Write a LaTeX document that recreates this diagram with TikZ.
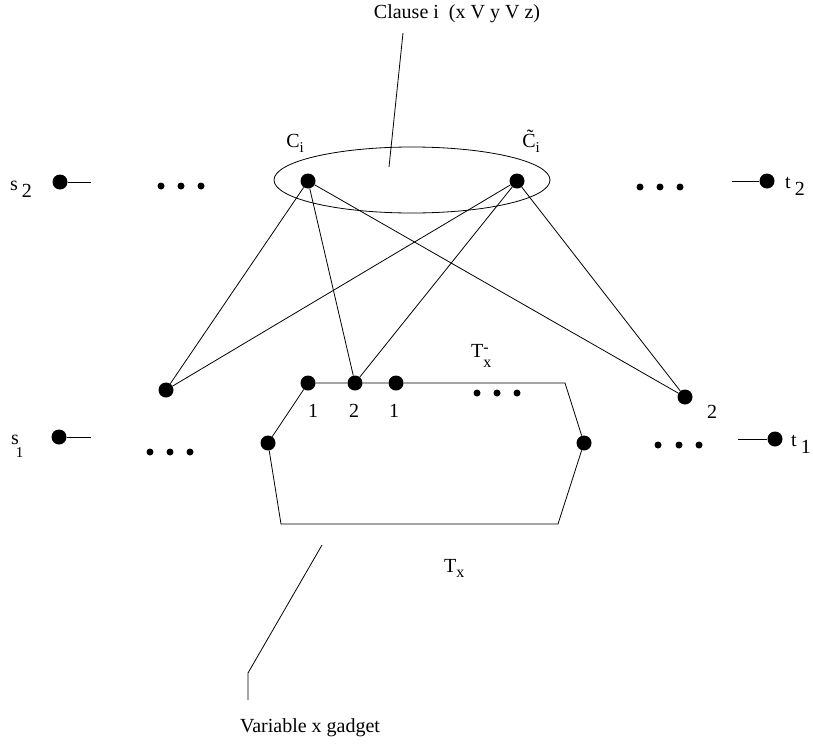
\documentclass[tikz,border=0pt]{standalone}
\usepackage{fontspec}
\setmainfont{Liberation Serif}
\begin{document}
\begin{tikzpicture}[x=1pt,y=-1pt,
  big/.style={circle,fill=black,inner sep=0pt,minimum size=15pt},
  small/.style={circle,fill=black,inner sep=0pt,minimum size=7pt},
  lbl/.style={inner sep=0pt,font=\fontsize{20}{24}\selectfont},
  ln/.style={line width=0.8pt}]
\useasboundingbox (0,0) rectangle (813,744);
% title and pointer
\node[lbl] (title) at (457,14) {Clause i\ \ (x V y V z)};
\coordinate (tp1) at (403,33);
\coordinate (tp2) at (389,167);
\draw[ln] (tp1) -- (tp2);
% clause ellipse
\draw[ln] (412,180) ellipse [x radius=138, y radius=33];
\node[big] (C) at (308,181) {};
\node[big] (Ct) at (517,181) {};
\node[lbl] (Clbl) at (295,143) {C\raisebox{-5pt}{\fontsize{15}{15}\selectfont i}};
\node[lbl] (Ctlbl) at (531,141) {\~{C}\raisebox{-5pt}{\fontsize{15}{15}\selectfont i}};
% s2 / t2
\node[big] (s2) at (60,182) {};
\coordinate (s2e) at (91,182);
\draw[ln] (s2) -- (s2e);
\node[lbl] (s2l) at (21,189) {s\hspace{4pt}\raisebox{-7pt}{2}};
\foreach \i/\xx in {1/161,2/181,3/201} \node[small] (d2l\i) at (\xx,186) {};
\foreach \i/\xx in {1/640,2/660,3/680} \node[small] (d2r\i) at (\xx,187) {};
\node[big] (t2) at (767,181) {};
\coordinate (t2e) at (732,181);
\draw[ln] (t2e) -- (t2);
\node[lbl] (t2l) at (795,186) {t\hspace{4pt}\raisebox{-7pt}{2}};
% s1 / t1
\node[big] (s1) at (59,437) {};
\coordinate (s1e) at (91,437);
\draw[ln] (s1) -- (s1e);
\node[lbl,anchor=base west] (s1l) at (11,444) {s\kern-3pt\raisebox{-13pt}{\fontsize{15}{15}\selectfont 1}};
\foreach \i/\xx in {1/150,2/170,3/190} \node[small] (d1l\i) at (\xx,452) {};
\foreach \i/\xx in {1/658,2/679,3/699} \node[small] (d1r\i) at (\xx,445) {};
\node[big] (t1) at (775,439) {};
\coordinate (t1e) at (738,439);
\draw[ln] (t1e) -- (t1);
\node[lbl,anchor=west] (t1l) at (791,444) {t\hspace{4pt}\raisebox{-7pt}{1}};
% variable nodes
\node[big] (L) at (166,390) {};
\node[big] (R2) at (685,397) {};
\node[lbl] (R2l) at (712,412) {2};
% gadget
\node[big] (g1) at (308,383) {};
\node[big] (g2) at (355,383) {};
\node[big] (g3) at (396,383) {};
\node[big] (gl) at (268,443) {};
\node[big] (gr) at (584,443) {};
\coordinate (gtr) at (565,383);
\coordinate (gbr) at (558,524);
\coordinate (gbl) at (281,524);
\draw[ln] (gl) -- (g1) -- (g2) -- (g3) -- (gtr) -- (gr) -- (gbr) -- (gbl) -- (gl);
\node[lbl] (g1l) at (313,411) {1};
\node[lbl] (g2l) at (354,411) {2};
\node[lbl] (g3l) at (394,411) {1};
\foreach \i/\xx in {1/477,2/497,3/517} \node[small] (dg\i) at (\xx,393) {};
\node[lbl,anchor=base west] (Tm) at (471,357) {T\rlap{\raisebox{5pt}{\fontsize{16}{16}\selectfont -}}\raisebox{-10pt}{\fontsize{16}{16}\selectfont x}};
\node[lbl,anchor=base west] (Tx) at (444,572) {T\raisebox{-5pt}{\fontsize{16}{16}\selectfont x}};
% edges
\draw[ln] (C) -- (L);
\draw[ln] (C) -- (g2);
\draw[ln] (C) -- (R2);
\draw[ln] (Ct) -- (L);
\draw[ln] (Ct) -- (g2);
\draw[ln] (Ct) -- (R2);
% gadget pointer
\coordinate (gp1) at (322,545);
\coordinate (gp2) at (248,673);
\coordinate (gp3) at (248,700);
\draw[ln] (gp1) -- (gp2) -- (gp3);
\node[lbl] (gadget) at (310,728) {Variable x gadget};
\end{tikzpicture}
\end{document}
